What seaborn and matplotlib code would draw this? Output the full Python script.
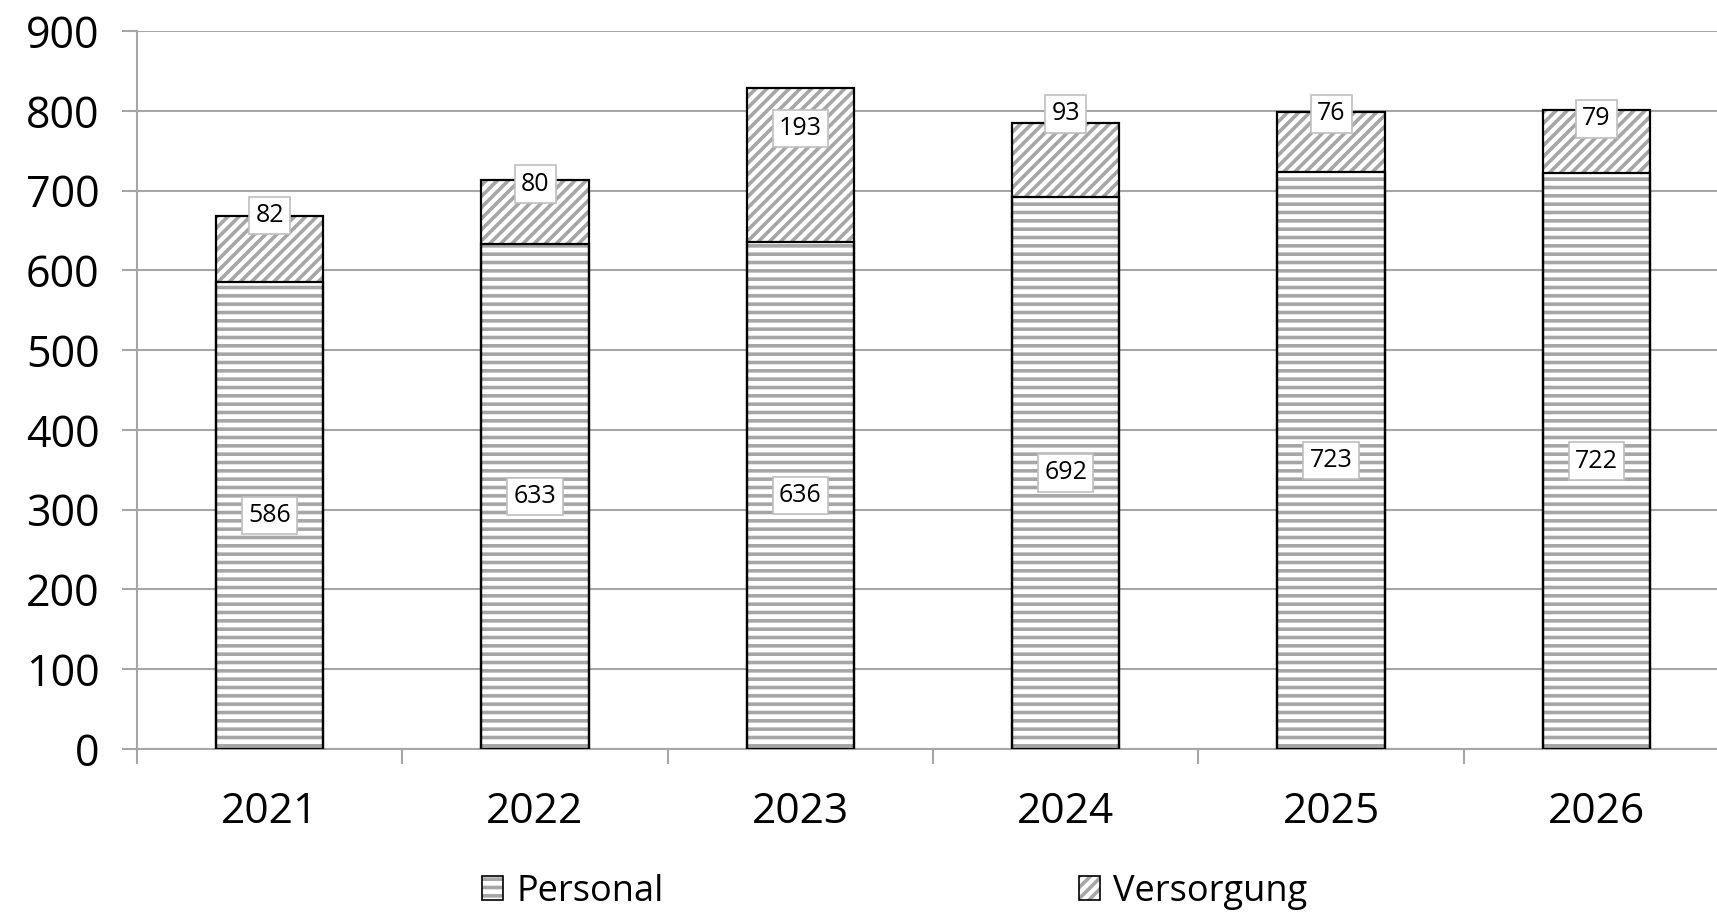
import matplotlib
matplotlib.use("Agg")
import matplotlib.pyplot as plt
import matplotlib.patches as mpatches
from matplotlib.legend_handler import HandlerTuple
import seaborn as sns
import pandas as pd

# Daten
jahre = ["2021", "2022", "2023", "2024", "2025", "2026"]
personal = [586, 633, 636, 692, 723, 722]
versorgung = [82, 80, 193, 93, 76, 79]
# Lage der Versorgungs-Beschriftungen (wie im Original verschoben)
versorgung_label_y = [669, 708, 778, 796, 796, 790]

df = pd.DataFrame({"Jahr": jahre, "Personal": personal, "Versorgung": versorgung})
df["Gesamt"] = df["Personal"] + df["Versorgung"]

sns.set_theme(style="white")
plt.rcParams["font.family"] = ["Open Sans", "DejaVu Sans"]
plt.rcParams["text.color"] = "black"
plt.rcParams["hatch.linewidth"] = 2.6

GRAU = "#a6a6a6"
BREITE = 0.404

fig = plt.figure(figsize=(17.17, 9.17), dpi=100)
ax = fig.add_axes([137 / 1717, 1 - 749 / 917, 1592 / 1717, (749 - 31) / 917])

# Schraffierte Flächen (Schraffurfarbe = Kantenfarbe, daher Umriss separat)
sns.barplot(data=df, x="Jahr", y="Gesamt", color="white", width=BREITE,
            edgecolor=GRAU, linewidth=0, hatch="///", ax=ax, zorder=2)
sns.barplot(data=df, x="Jahr", y="Personal", color="white", width=BREITE,
            edgecolor=GRAU, linewidth=0, hatch="--", ax=ax, zorder=2)
# Umrisse
sns.barplot(data=df, x="Jahr", y="Gesamt", fill=False, width=BREITE,
            edgecolor="black", linewidth=1.6, ax=ax, zorder=3)
sns.barplot(data=df, x="Jahr", y="Personal", fill=False, width=BREITE,
            edgecolor="black", linewidth=1.6, ax=ax, zorder=3)

box = dict(boxstyle="square,pad=0.25", facecolor="white", edgecolor="#bfbfbf", linewidth=1.2)
for i in range(len(jahre)):
    ax.text(i, personal[i] / 2, str(personal[i]), ha="center", va="center",
            fontsize=18, bbox=box, zorder=5)
    ax.text(i, versorgung_label_y[i], str(versorgung[i]), ha="center", va="center",
            fontsize=18, bbox=box, zorder=5)

ax.set_ylim(0, 900)
ax.set_xlim(-0.5, 5.5)
ax.set_yticks(range(0, 901, 100))
ax.yaxis.grid(True, color=GRAU, linewidth=1.5, zorder=0)
ax.set_axisbelow(True)
ax.set_xlabel("")
ax.set_ylabel("")

ax.set_xticks(range(len(jahre)))
ax.set_xticklabels(jahre)
ax.set_xticks([x - 0.5 for x in range(len(jahre) + 1)], minor=True)
ax.tick_params(axis="x", which="major", length=0, pad=30, labelsize=30.5, labelcolor="black")
ax.tick_params(axis="x", which="minor", length=11, width=1.5, color=GRAU, direction="out", bottom=True)
ax.tick_params(axis="y", length=11, width=1.5, color=GRAU, direction="out", pad=16,
               labelsize=31, labelcolor="black", left=True)

for s in ["top", "right"]:
    ax.spines[s].set_visible(False)
for s in ["left", "bottom"]:
    ax.spines[s].set_color(GRAU)
    ax.spines[s].set_linewidth(1.5)

# Legende: Schraffur + schwarzer Rahmen übereinander
rahmen = mpatches.Patch(facecolor="none", edgecolor="black", linewidth=1.2)
handles = [
    (mpatches.Patch(facecolor="white", edgecolor=GRAU, hatch="--", linewidth=0), rahmen),
    (mpatches.Patch(facecolor="white", edgecolor=GRAU, hatch="///", linewidth=0), rahmen),
]
fig.legend(handles=handles, labels=["Personal", "Versorgung"],
           handler_map={tuple: HandlerTuple(ndivide=1)},
           loc="center", bbox_to_anchor=(0.521, 1 - 892 / 917),
           ncol=2, frameon=False, fontsize=26, columnspacing=11.5,
           handlelength=0.6, handleheight=0.65, handletextpad=0.35)

fig.savefig("out.png", dpi=100)
